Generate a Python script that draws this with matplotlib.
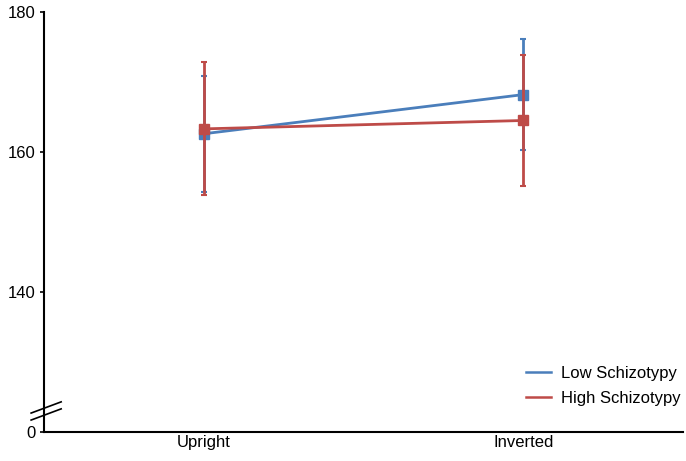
import matplotlib
matplotlib.use("Agg")
import matplotlib.pyplot as plt
from matplotlib.lines import Line2D
import matplotlib.transforms as mtransforms

plt.rcParams['font.family'] = ['Liberation Sans', 'DejaVu Sans']

categories = ["Upright", "Inverted"]
low_means = [162.6, 168.2]
low_err = [8.3, 7.9]
high_means = [163.3, 164.5]
high_err = [9.5, 9.3]
ytick_values = [120, 140, 160, 180]
ytick_labels = ["0", "140", "160", "180"]

blue = "#4A7EBB"
red = "#BE4B48"

fig = plt.figure(figsize=(6.86, 4.61), dpi=100)
ax = fig.add_axes([0.064, 0.063, 0.932, 0.911])

x = list(range(len(categories)))
ax.errorbar(x, low_means, yerr=low_err, color=blue, lw=2, marker='s', ms=7,
            capsize=2.5, capthick=1.5, elinewidth=2, label="Low Schizotypy", zorder=3)
ax.errorbar(x, high_means, yerr=high_err, color=red, lw=2, marker='s', ms=7,
            capsize=2.5, capthick=1.5, elinewidth=2, label="High Schizotypy", zorder=4)

ax.set_xlim(-0.5, 1.5)
ax.set_ylim(120, 180)
ax.set_xticks(x)
ax.set_xticklabels(categories, fontsize=12)
ax.set_yticks(ytick_values)
ax.set_yticklabels(ytick_labels, fontsize=12)
ax.tick_params(axis='x', length=0, pad=2)
ax.tick_params(axis='y', length=3, width=1.2, direction='out', pad=3)
for s in ['top', 'right']:
    ax.spines[s].set_visible(False)
for s in ['left', 'bottom']:
    ax.spines[s].set_linewidth(1.5)

# axis break marks
trans = mtransforms.blended_transform_factory(ax.transAxes, ax.transData)
for dy in (0, -7):
    t = mtransforms.offset_copy(trans, fig=fig, x=0, y=dy * 72 / 100, units='points')
    ax.add_line(Line2D([-0.02, 0.027], [122.7, 124.3], color='black', lw=1.2,
                       transform=t, clip_on=False))

handles = [Line2D([], [], color=blue, lw=1.8), Line2D([], [], color=red, lw=1.8)]
ax.legend(handles, ["Low Schizotypy", "High Schizotypy"], loc='lower right',
          bbox_to_anchor=(1.019, 0.027), frameon=False, fontsize=12,
          handlelength=1.5, handletextpad=0.6, labelspacing=0.6)

fig.savefig("out.png", dpi=100)
